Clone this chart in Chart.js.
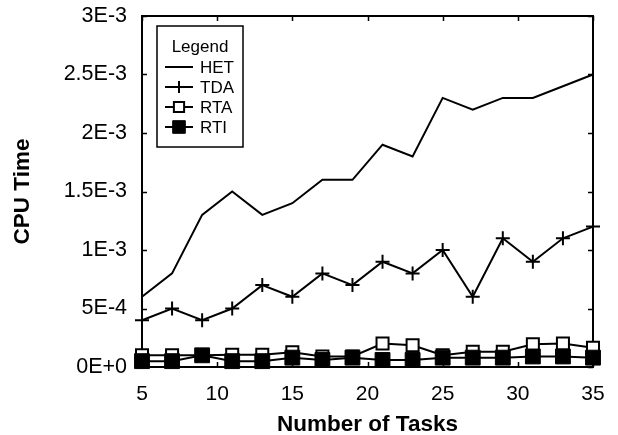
<!DOCTYPE html>
<html><head><meta charset="utf-8">
<script src="https://cdn.jsdelivr.net/npm/chart.js@4/dist/chart.umd.min.js"></script>
<style>html,body{margin:0;padding:0;background:#fff}#wrap{width:618px;height:435px}</style>
</head><body><div id="wrap"><canvas id="c" width="618" height="435"></canvas></div>
<script>
const tasks = [5,7,9,11,13,15,17,19,21,23,25,27,29,31,33,35];
const HET = [6e-4,8e-4,1.3e-3,1.5e-3,1.3e-3,1.4e-3,1.6e-3,1.6e-3,1.9e-3,1.8e-3,2.3e-3,2.2e-3,2.3e-3,2.3e-3,2.4e-3,2.5e-3];
const TDA = [4e-4,5e-4,4e-4,5e-4,7e-4,6e-4,8e-4,7e-4,9e-4,8e-4,1e-3,6e-4,1.1e-3,9e-4,1.1e-3,1.2e-3];
const RTA = [1e-4,1e-4,1e-4,1.05e-4,1.05e-4,1.25e-4,9e-5,9e-5,2e-4,1.85e-4,1e-4,1.3e-4,1.3e-4,1.95e-4,2e-4,1.65e-4];
const RTI = [5e-5,5e-5,1e-4,5e-5,5e-5,8e-5,6e-5,8e-5,6e-5,6e-5,8e-5,8e-5,8e-5,9e-5,9e-5,8e-5];
const xTicks = [5,10,15,20,25,30,35];
const yTickLabels = ['0E+0','5E-4','1E-3','1.5E-3','2E-3','2.5E-3','3E-3'];
const seriesNames = ['HET','TDA','RTA','RTI'];

const pts = arr => arr.map((v,i)=>({x:tasks[i], y:v}));
const FONT = '"Liberation Sans", Arial, sans-serif';

const datasets = [
  {label:seriesNames[0], data:pts(HET), borderColor:'#000', borderWidth:2, pointRadius:0, order:4},
  {label:seriesNames[1], data:pts(TDA), borderColor:'#000', borderWidth:2, pointStyle:'cross', pointRadius:7, pointBorderWidth:2, pointBorderColor:'#000', order:3},
  {label:seriesNames[2], data:pts(RTA), borderColor:'#000', borderWidth:2, pointStyle:'rect', pointRadius:8.5, pointBorderWidth:2, pointBorderColor:'#000', pointBackgroundColor:'#fff', order:2},
  {label:seriesNames[3], data:pts(RTI), borderColor:'#000', borderWidth:2, pointStyle:'rect', pointRadius:10.5, pointBorderWidth:1, pointBorderColor:'#000', pointBackgroundColor:'#000', order:1}
].map(d=>Object.assign(d,{fill:false, tension:0, clip:false, backgroundColor:d.pointBackgroundColor||'#000'}));

const framePlugin = {
  id:'frame',
  beforeDatasetsDraw(chart){
    const {ctx, chartArea:a, scales:{x,y}} = chart;
    ctx.save();
    ctx.strokeStyle='#000'; ctx.lineWidth=2;
    ctx.strokeRect(a.left, a.top, a.right-a.left, a.bottom-a.top);
    ctx.lineWidth=1.5;
    const L=5;
    ctx.beginPath();
    xTicks.forEach(v=>{
      const px = Math.round(x.getPixelForValue(v))+0.5;
      ctx.moveTo(px,a.bottom); ctx.lineTo(px,a.bottom-L);
      ctx.moveTo(px,a.top); ctx.lineTo(px,a.top+L);
    });
    y.ticks.forEach(t=>{
      const py = Math.round(y.getPixelForValue(t.value))+0.5;
      ctx.moveTo(a.left,py); ctx.lineTo(a.left+L,py);
      ctx.moveTo(a.right,py); ctx.lineTo(a.right-L,py);
    });
    ctx.stroke();
    ctx.restore();
  }
};

const legendPlugin = {
  id:'boxLegend',
  afterDatasetsDraw(chart){
    const ctx = chart.ctx;
    const bx=157, by=26, bw=86, bh=121;
    ctx.save();
    ctx.fillStyle='#fff'; ctx.fillRect(bx,by,bw,bh);
    ctx.strokeStyle='#000'; ctx.lineWidth=1.5; ctx.strokeRect(bx,by,bw,bh);
    ctx.fillStyle='#000'; ctx.font='17px '+FONT; ctx.textBaseline='middle';
    ctx.textAlign='center'; ctx.fillText('Legend', 200, 47);
    ctx.textAlign='left';
    chart.data.datasets.forEach((d,i)=>{
      const yy = 67 + i*20;
      ctx.strokeStyle='#000'; ctx.lineWidth=2;
      ctx.beginPath(); ctx.moveTo(165,yy); ctx.lineTo(193,yy); ctx.stroke();
      if (d.pointRadius>0){
        ctx.fillStyle=d.pointBackgroundColor; ctx.strokeStyle='#000'; ctx.lineWidth=d.pointBorderWidth;
        Chart.helpers.drawPoint(ctx,{pointStyle:d.pointStyle, radius:d.pointRadius*0.85, borderWidth:d.pointBorderWidth, rotation:0}, 179, yy);
      }
      ctx.fillStyle='#000';
      ctx.fillText(d.label, 200, yy+1);
    });
    ctx.restore();
  }
};

new Chart(document.getElementById('c'), {
  type:'line',
  data:{datasets},
  plugins:[framePlugin, legendPlugin],
  options:{
    responsive:false, animation:false, devicePixelRatio:1,
    layout:{padding:{left:0,right:25,top:16,bottom:0}},
    plugins:{legend:{display:false}, tooltip:{enabled:false}},
    scales:{
      x:{type:'linear', min:5, max:35, grid:{display:false}, border:{display:false},
        afterBuildTicks(s){ s.ticks = xTicks.map(v=>({value:v})); },
        afterFit(s){ s.height=68; s.paddingLeft=0; s.paddingRight=0; },
        ticks:{color:'#000', padding:7, font:{family:FONT, size:21}, callback:v=>String(v), maxRotation:0, autoSkip:false},
        title:{display:true, text:'Number of Tasks', color:'#000', font:{family:FONT, size:22.5, weight:'bold'}, padding:{top:0,bottom:-3}}
      },
      y:{type:'linear', min:0, max:3e-3, grid:{display:false}, border:{display:false},
        afterFit(s){ s.width=142; s.paddingTop=0; s.paddingBottom=0; },
        ticks:{stepSize:5e-4, color:'#000', padding:7, font:{family:FONT, size:21.5}, callback:(v,i)=>yTickLabels[i]},
        title:{display:true, text:'CPU Time', color:'#000', font:{family:FONT, size:22.5, weight:'bold'}, padding:{top:9,bottom:0}}
      }
    }
  }
});
</script></body></html>
